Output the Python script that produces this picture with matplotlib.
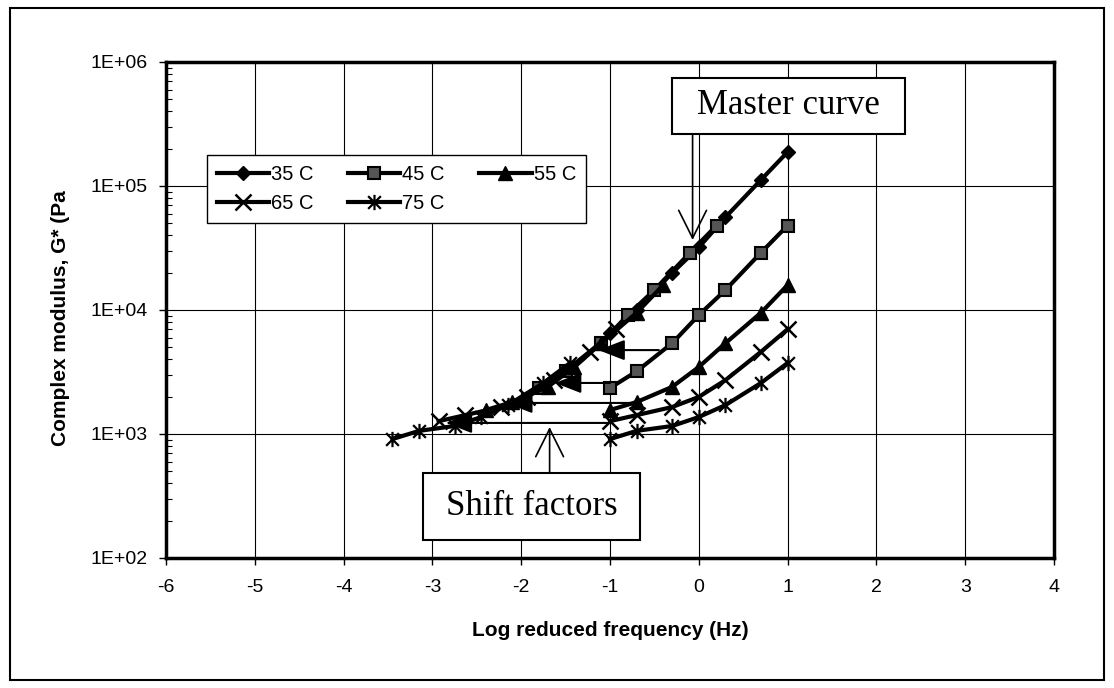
import matplotlib
matplotlib.use("Agg")
import matplotlib.pyplot as plt
from matplotlib.path import Path
from matplotlib.patches import Rectangle

# test frequencies (log10 Hz) and measured |G*| (Pa) per temperature
log_freq = [-1.0, -0.7, -0.3, 0.0, 0.3, 0.7, 1.0]
labels = ["35 C", "45 C", "55 C", "65 C", "75 C"]
g_35 = [6500, 10000, 19900, 32000, 56000, 112000, 188000]
g_45 = [2350, 3200, 5400, 9100, 14500, 29000, 48000]
g_55 = [1560, 1810, 2400, 3470, 5400, 9500, 15900]
g_65 = [1270, 1420, 1650, 1990, 2720, 4600, 7000]
g_75 = [910, 1060, 1160, 1370, 1710, 2580, 3740]
# log shift factors relative to 35 C
shift = [0.0, -0.8, -1.4, -1.93, -2.45]

# hand drawn shift arrows: level, start, tip
arrow_g = [4750, 2580, 1780, 1228]
arrow_from = [-0.45, -1.0, -0.71, -1.02]
arrow_to = [-1.13, -1.62, -2.17, -2.85]

plt.rcParams["font.family"] = ["Liberation Sans", "DejaVu Sans"]
plt.rcParams["axes.unicode_minus"] = False

# excel style asterisk: x plus a vertical bar
star = Path([(-1, -1), (1, 1), (-1, 1), (1, -1), (0, -1.2), (0, 1.2)],
            [Path.MOVETO, Path.LINETO, Path.MOVETO, Path.LINETO, Path.MOVETO, Path.LINETO])

styles = [
    dict(marker="D", ms=7.5, mfc="black", mec="black"),
    dict(marker="s", ms=9, mfc="#555555", mec="black", mew=1.5),
    dict(marker="^", ms=10, mfc="black", mec="black"),
    dict(marker="x", ms=11, mec="black", mew=1.8),
    dict(marker=star, ms=11, mec="black", mew=1.6),
]

fig = plt.figure(figsize=(11.14, 6.88), dpi=100)
ax = fig.add_axes([166 / 1114, 1 - 558 / 688, 888 / 1114, 496 / 688])

series = [g_35, g_45, g_55, g_65, g_75]
handles = []
for g, s, lab, st in zip(series, shift, labels, styles):
    h, = ax.plot(log_freq, g, color="black", lw=3, label=lab, zorder=3, **st)
    handles.append(h)
    if s != 0:
        ax.plot([f + s for f in log_freq], g, color="black", lw=3, zorder=3, **st)

for gy, x0, x1 in zip(arrow_g, arrow_from, arrow_to):
    ax.annotate("", xy=(x1, gy), xytext=(x0, gy),
                arrowprops=dict(arrowstyle="-|>,head_length=0.9,head_width=0.35",
                                color="black", lw=1.5, mutation_scale=18,
                                shrinkA=0, shrinkB=0), zorder=4)

ax.set_yscale("log")
ax.set_xlim(-6, 4)
ax.set_ylim(1e2, 1e6)
ax.set_xticks(range(-6, 5))
ax.set_yticks([1e2, 1e3, 1e4, 1e5, 1e6])
ax.set_yticklabels(["1E+02", "1E+03", "1E+04", "1E+05", "1E+06"])
ax.tick_params(axis="both", which="major", labelsize=14, direction="out",
               length=5, width=1, color="black")
ax.tick_params(axis="x", pad=10)
ax.tick_params(axis="y", which="minor", direction="in", length=4, width=0.8)
ax.tick_params(axis="y", pad=8)
ax.grid(True, which="major", color="black", lw=0.8)
ax.set_axisbelow(True)
for sp in ax.spines.values():
    sp.set_linewidth(2.5)

leg = ax.legend(handles=[handles[0], handles[3], handles[1], handles[4], handles[2]],
                ncol=3, loc="upper left", bbox_to_anchor=(0.046, 0.8125),
                borderaxespad=0, fancybox=False, edgecolor="black", framealpha=1,
                fontsize=14.5, handlelength=2.6, handletextpad=0.1,
                columnspacing=1.7, borderpad=0.5, labelspacing=0.5)
leg.get_frame().set_linewidth(1)

fig.text(610 / 1114, 1 - 630 / 688, "Log reduced frequency (Hz)", fontsize=15,
         fontweight="bold", ha="center", va="center")
fig.text(60 / 1114, 1 - 318 / 688, "Complex modulus, G* (Pa", fontsize=15,
         fontweight="bold", ha="center", va="center", rotation=90)

# callout boxes
for (l, t, r, b), txt in [((672, 78, 905, 134), "Master curve"),
                          ((423, 473, 640, 540), "Shift factors")]:
    fig.patches.append(Rectangle((l / 1114, 1 - b / 688), (r - l) / 1114, (b - t) / 688,
                                 transform=fig.transFigure, fill=True, fc="white",
                                 ec="black", lw=1.5, zorder=5))
    fig.text((l + r) / 2 / 1114, 1 - (t + b) / 2 / 688, txt, fontsize=25,
             family="Liberation Serif", ha="center", va="center", zorder=6)

ax.annotate("", xy=(-0.07, 3.67e4), xytext=(-0.07, 2.63e5),
            arrowprops=dict(arrowstyle="->,head_length=1.0,head_width=0.5",
                            color="black", lw=1.2, mutation_scale=20,
                            shrinkA=0, shrinkB=0), zorder=4)
ax.annotate("", xy=(-1.68, 1138), xytext=(-1.68, 484),
            arrowprops=dict(arrowstyle="->,head_length=1.0,head_width=0.5",
                            color="black", lw=1.2, mutation_scale=20,
                            shrinkA=0, shrinkB=0), zorder=4)

fig.patches.append(Rectangle((10 / 1114, 1 - 680 / 688), 1094 / 1114, 672 / 688,
                             transform=fig.transFigure, fill=False, ec="black", lw=1.5))

fig.savefig("out.png", dpi=100)
